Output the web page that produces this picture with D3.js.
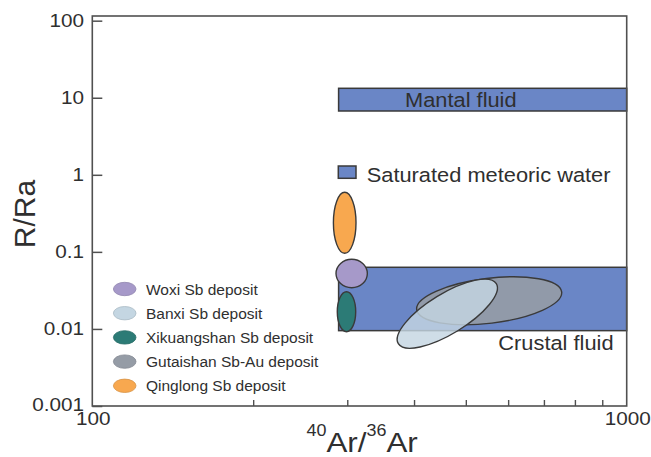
<!DOCTYPE html>
<html>
<head>
<meta charset="utf-8">
<script src="https://cdn.jsdelivr.net/npm/d3@7/dist/d3.min.js"></script>
<style>
  html, body { margin: 0; padding: 0; background: #fff; }
  svg { display: block; }
  text { font-family: "Liberation Sans", Arial, Helvetica, sans-serif; fill: #2f2f2f; }
</style>
</head>
<body>
<svg id="chart" width="651" height="457"></svg>
<script>
// ---------- data ----------
const xDomain = [100, 1000];
const yDomain = [0.001, 115];
const xTickValues = [100, 1000];
const xTickLabels = ["100", "1000"];
const xMinorTicks = [200, 300, 400, 500, 600, 700, 800, 900];
const yTickValues = [0.001, 0.01, 0.1, 1, 10, 100];
const yTickLabels = ["0.001", "0.01", "0.1", "1", "10", "100"];

// fluid fields (rectangles)
const fieldNames = ["Crustal fluid", "Mantal fluid"];
const fieldX0 = [289, 289];
const fieldX1 = [1000, 1000];
const fieldY0 = [0.0095, 6.73];
const fieldY1 = [0.0631, 13.26];

// deposits: ellipses given by the two ends of the major axis and one end of the minor axis
const depositNames = ["Woxi Sb deposit", "Banxi Sb deposit", "Xikuangshan Sb deposit", "Gutaishan Sb-Au deposit", "Qinglong Sb deposit"];
const majorEnd1 = [[285.8, 0.0524], [373.8, 0.00643], [299.0, 0.0304], [404.6, 0.01777], [296.7, 0.593]];
const majorEnd2 = [[327.1, 0.0524], [570.2, 0.03864], [299.0, 0.0092], [755.6, 0.03024], [296.7, 0.0958]];
const minorEnd  = [[305.8, 0.0801], [483.0, 0.00947], [311.1, 0.01673], [559.5, 0.0119], [311.5, 0.2384]];
const drawOrder = [3, 1, 0, 2, 4];

const legendFieldLabel = "Saturated meteoric water";

// ---------- styles ----------
const depositColors = ["#a699c9", "#c4d6e2", "#2c7b76", "#959ca6", "#f8a84f"];
const depositOpacity = [1, 0.82, 1, 0.92, 1];
const fieldFill = "#6a86c6";
const inkColor = "#3a3a3a";
const stretch = 1.12;

// ---------- layout ----------
const svg = d3.select("#chart");
const x = d3.scaleLog().domain(xDomain).range([92.3, 626.7]);
const y = d3.scaleLog().domain(yDomain).range([406, 16]);

function stretchedText(parent, px, py, str, size, anchor, sx) {
  const t = parent.append("text")
    .attr("transform", `translate(${px},${py}) scale(${sx},1)`)
    .attr("text-anchor", anchor)
    .attr("font-size", size)
    .text(str);
  return t;
}

// fields
const fieldG = svg.append("g");
fieldNames.forEach((n, i) => {
  fieldG.append("rect")
    .attr("x", x(fieldX0[i]))
    .attr("y", y(fieldY1[i]))
    .attr("width", x(fieldX1[i]) - x(fieldX0[i]))
    .attr("height", y(fieldY0[i]) - y(fieldY1[i]))
    .attr("fill", fieldFill)
    .attr("stroke", inkColor)
    .attr("stroke-width", 1.5);
});

// field labels
stretchedText(svg, 405, 106.7, fieldNames[1], 19.5, "start", stretch);
stretchedText(svg, 498.3, 350, fieldNames[0], 19.5, "start", stretch);

// saturated meteoric water legend key
svg.append("rect")
  .attr("x", 338.3).attr("y", 166).attr("width", 17.7).attr("height", 12.3)
  .attr("fill", fieldFill).attr("stroke", inkColor).attr("stroke-width", 1.5);
stretchedText(svg, 366.7, 181.7, legendFieldLabel, 19.5, "start", stretch);

// deposit ellipses
const ellG = svg.append("g");
drawOrder.forEach(i => {
  const p1 = [x(majorEnd1[i][0]), y(majorEnd1[i][1])];
  const p2 = [x(majorEnd2[i][0]), y(majorEnd2[i][1])];
  const pm = [x(minorEnd[i][0]), y(minorEnd[i][1])];
  const cx = (p1[0] + p2[0]) / 2, cy = (p1[1] + p2[1]) / 2;
  const a = Math.hypot(p2[0] - p1[0], p2[1] - p1[1]) / 2;
  const b = Math.hypot(pm[0] - cx, pm[1] - cy);
  const ang = Math.atan2(p2[1] - p1[1], p2[0] - p1[0]) * 180 / Math.PI;
  ellG.append("ellipse")
    .attr("transform", `translate(${cx},${cy}) rotate(${ang})`)
    .attr("rx", a).attr("ry", b)
    .attr("fill", depositColors[i])
    .attr("fill-opacity", depositOpacity[i])
    .attr("stroke", inkColor)
    .attr("stroke-width", 1.4);
});

// frame
svg.append("rect")
  .attr("x", x(xDomain[0])).attr("y", y(yDomain[1]))
  .attr("width", x(xDomain[1]) - x(xDomain[0]))
  .attr("height", y(yDomain[0]) - y(yDomain[1]))
  .attr("fill", "none").attr("stroke", "#505050").attr("stroke-width", 1.6);

// axes
const yAxis = d3.axisRight(y).tickValues(yTickValues).tickSize(10).tickFormat(() => "");
const yg = svg.append("g").attr("transform", `translate(${x(xDomain[0])},0)`).call(yAxis);
yg.select(".domain").remove();
yg.selectAll(".tick line").attr("stroke", "#505050").attr("stroke-width", 1.5);

const xMinorAxis = d3.axisTop(x).tickValues(xMinorTicks).tickSize(6).tickFormat(() => "");
const xg = svg.append("g").attr("transform", `translate(0,${y(yDomain[0])})`).call(xMinorAxis);
xg.select(".domain").remove();
xg.selectAll(".tick line").attr("stroke", "#505050").attr("stroke-width", 1.4);

// tick labels
yTickValues.forEach((v, i) => {
  const dy = i === 0 ? 4.6 : 6.2;
  stretchedText(svg, 84, y(v) + dy, yTickLabels[i], 18.5, "end", stretch);
});
xTickValues.forEach((v, i) => {
  stretchedText(svg, x(v) + 1, 425, xTickLabels[i], 18.5, "middle", stretch);
});

// axis titles
svg.append("text")
  .attr("transform", "translate(34.5,214) rotate(-90)")
  .attr("text-anchor", "middle")
  .attr("font-size", 30)
  .text("R/Ra");

const xt = svg.append("text")
  .attr("transform", `translate(306.5,452) scale(${stretch},1)`)
  .attr("font-size", 28);
xt.append("tspan").attr("font-size", 16).attr("dy", -16).text("40");
xt.append("tspan").attr("dy", 16).text("Ar/");
xt.append("tspan").attr("font-size", 16).attr("dy", -16).text("36");
xt.append("tspan").attr("dy", 16).text("Ar");

// deposit legend
const legG = svg.append("g");
depositNames.forEach((n, i) => {
  const ly = 289 + i * 24.2;
  legG.append("ellipse")
    .attr("cx", 124.7).attr("cy", ly).attr("rx", 11.3).attr("ry", 6.7)
    .attr("fill", depositColors[i])
    .attr("stroke", d3.color(depositColors[i]).darker(0.4))
    .attr("stroke-width", 0.8);
  legG.append("text")
    .attr("x", 146).attr("y", ly + 5.6)
    .attr("font-size", 15.5)
    .text(n);
});
</script>
</body>
</html>
